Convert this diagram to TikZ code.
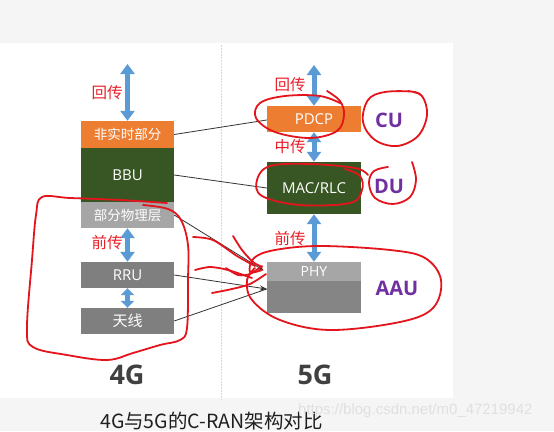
\documentclass[tikz,border=0pt]{standalone}
\usepackage{fontspec}
\setmainfont{Open Sans}
\newfontfamily\cjk{Noto Sans CJK SC}
\newfontfamily\wmfont{Liberation Sans}
\usetikzlibrary{arrows.meta}
\definecolor{orangeA}{HTML}{ED7D31}
\definecolor{greenA}{HTML}{375623}
\definecolor{grayL}{HTML}{A6A6A6}
\definecolor{grayD}{HTML}{7F7F7F}
\definecolor{blueA}{HTML}{5B9BD5}
\definecolor{purpleA}{HTML}{7030A0}
\definecolor{redlab}{RGB}{235,30,40}
\definecolor{redpen}{RGB}{228,20,28}
\definecolor{dashc}{HTML}{F3D695}
\definecolor{bgg}{HTML}{F5F5F5}
\tikzset{
  box/.style={inner sep=0pt, text=white, font=\cjk\fontsize{13.5}{13.5}\selectfont},
  lbox/.style={box, minimum width=93pt},
  rbox/.style={box, minimum width=94pt},
  latin/.style={font=\fontsize{15}{15}\selectfont},
  barrow/.style={draw=blueA, line width=5pt, {Triangle[width=14pt,length=10pt]}-{Triangle[width=14pt,length=10pt]}},
  sarrow/.style={draw=blueA, line width=5pt, {Triangle[width=13pt,length=7pt]}-{Triangle[width=13pt,length=7pt]}},
  redlabel/.style={text=redlab, font=\cjk\fontsize{15.5}{15.5}\selectfont, inner sep=0pt},
  tag/.style={text=purpleA, font=\fontsize{20}{20}\selectfont\bfseries, inner sep=0pt},
  conn/.style={draw=black!80, line width=0.8pt},
  pen/.style={draw=redpen, line width=1.8pt, line cap=round, line join=round},
}
\begin{document}
\begin{tikzpicture}[x=1pt,y=-1pt]
\useasboundingbox (0,0) rectangle (554,431);
% background
\fill[bgg] (0,0) rectangle (554,431);
\fill[white] (0,43) rectangle (453,398);
\draw[dashc, line width=1pt, dash pattern=on 2pt off 1pt] (221,45) -- (221,400);

% left column
\node[lbox, fill=orangeA, minimum height=27pt] (nrt) at (127.5,134.5) {非实时部分};
\node[lbox, latin, fill=greenA, minimum height=54pt] (bbu) at (127.5,175) {BBU};
\node[lbox, fill=grayL, minimum height=26pt] (phyL) at (127.5,215) {部分物理层};
\node[lbox, latin, fill=grayD, minimum height=26pt] (rru) at (127.5,275) {RRU};
\node[lbox, fill=grayD, minimum height=26pt, font=\cjk\fontsize{15}{15}\selectfont] (ant) at (127.5,321) {天线};
\coordinate (topL) at (127.5,64);

% right column
\node[rbox, latin, fill=orangeA, minimum height=26pt] (pdcp) at (314,119) {PDCP};
\node[rbox, latin, fill=greenA, minimum height=52pt] (mac) at (314,188) {MAC/RLC};
\node[rbox, fill=grayL, minimum height=19pt, font=\fontsize{14}{14}\selectfont] (phyR) at (314,271.5) {PHY};
\node[rbox, fill=grayD!95!white, minimum height=32pt] (aaub) at (314,297) {};
\coordinate (topR) at (314,65);

% blue arrows
\draw[barrow] (topL) -- (nrt.north);
\draw[barrow] (phyL.south) -- (rru.north);
\draw[sarrow] (rru.south) -- (ant.north);
\draw[barrow] (topR) -- (pdcp.north);
\draw[barrow] (pdcp.south) -- (mac.north);
\draw[barrow] (mac.south) -- (phyR.north);

% red labels
\node[redlabel] (l1) at (107,93) {回传};
\node[redlabel] (l2) at (107,243) {前传};
\node[redlabel] (l3) at (290,85) {回传};
\node[redlabel] (l4) at (290,147) {中传};
\node[redlabel] (l5) at (290,239) {前传};

% tags
\node[tag] (cu) at (389,120) {CU};
\node[tag] (du) at (389,186) {DU};
\node[tag] (aau) at (397,288) {AAU};

% connectors
\draw[conn] (nrt.east) -- ([yshift=-1pt]pdcp.west);
\draw[conn] (bbu.east) -- (mac.west);
\draw[conn, -{Stealth[length=7pt,width=5pt]}] (phyL.east) -- ([xshift=-3pt,yshift=1pt]phyR.west);
\draw[conn, -{Stealth[length=7pt,width=5pt]}] (rru.east) -- ([yshift=8pt]aaub.west);
\draw[conn] (ant.east) -- ([yshift=8pt]aaub.west);

% bottom labels
\node[text=black!75, font=\fontsize{27}{27}\selectfont\bfseries, inner sep=0pt] (g4) at (127,375) {4G};
\node[text=black!75, font=\fontsize{27}{27}\selectfont\bfseries, inner sep=0pt] (g5) at (315,375) {5G};
\node[text=black!88, font=\cjk\fontsize{19.5}{19.5}\selectfont, inner sep=0pt, anchor=west] (cap) at (100,421) {4G与5G的C-RAN架构对比};
\node[text=black!12, font=\wmfont\fontsize{15}{15}\selectfont, inner sep=0pt, anchor=west] (wm) at (298,411) {https://blog.csdn.net/m0\_47219942};

% red pen scribbles
\draw[pen] plot[smooth, tension=0.6] coordinates {(167,203) (120,200) (70,198) (42,197) (36,215) (32,260) (27,328) (33,347) (67,355) (107,360) (133,353) (160,345) (180,340) (187,328) (188,280) (188,245) (181,220) (168,209) (143,205)};
\draw[pen] plot[smooth] coordinates {(193,237) (213,240) (237,256) (255,266)};
\draw[pen] plot[smooth] coordinates {(233,236) (242,250) (253,262) (262,267)};
\draw[pen] plot[smooth] coordinates {(195,270) (210,267) (228,270) (252,278)};
\draw[pen] plot[smooth] coordinates {(212,293) (232,289) (250,284) (266,274)};
\draw[pen] plot[smooth] coordinates {(226,268) (238,275) (250,274) (262,266)};
% AAU loop
\draw[pen] plot[smooth, tension=0.6] coordinates {(262,270) (250,272) (254,258) (275,250) (320,246) (390,250) (425,258) (441,280) (433,308) (400,322) (330,330) (280,320) (252,300) (247,280) (255,268)};
% PDCP loop
\draw[pen] plot[smooth, tension=0.6] coordinates {(327,91) (340,101) (344,115) (337,131) (310,138) (275,132) (256,118) (260,103) (285,96) (320,96) (342,104)};
% CU loop
\draw[pen] plot[smooth, tension=0.6] coordinates {(408,91) (422,96) (427,115) (418,136) (397,146) (375,140) (363,122) (368,100) (385,92) (415,92) (423,98)};
% MAC loop
\draw[pen] plot[smooth, tension=0.6] coordinates {(368,175) (355,168) (310,164) (270,166) (257,180) (262,196) (300,205) (350,203) (362,190) (360,176) (345,169)};
% DU loop
\draw[pen] plot[smooth, tension=0.6] coordinates {(412,162) (416,180) (410,197) (393,204) (375,198) (369,183) (374,171) (388,167)};
\end{tikzpicture}
\end{document}
